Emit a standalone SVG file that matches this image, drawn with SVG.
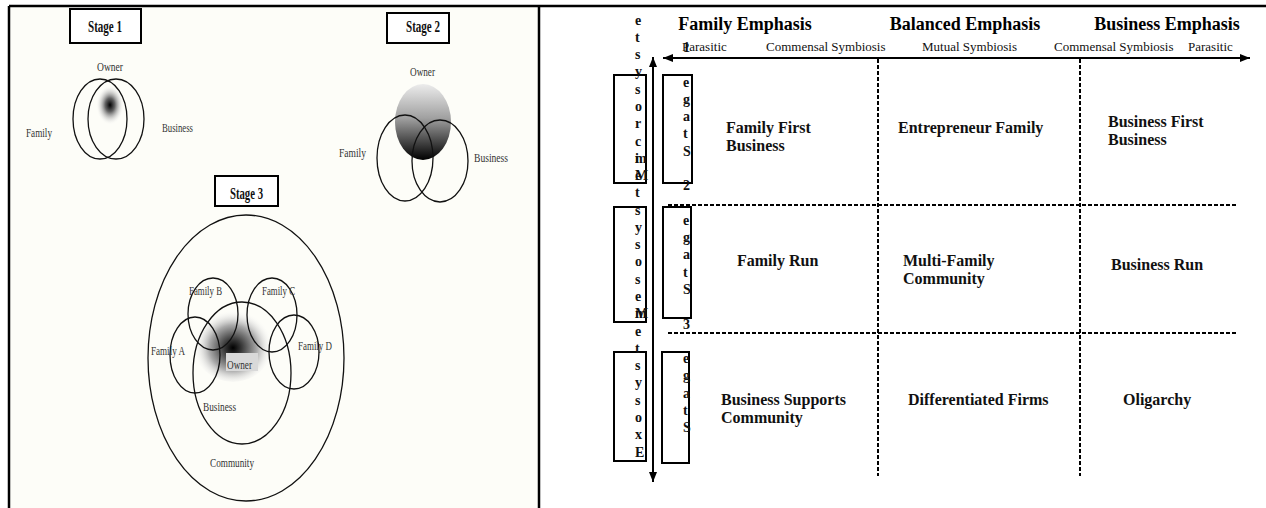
<svg xmlns="http://www.w3.org/2000/svg" width="1266" height="508" viewBox="0 0 1266 508">
<style>
.lbl{font-family:"Liberation Serif","Times New Roman",serif;font-size:13px;fill:#333}
.ttl{font-family:"Liberation Serif","Times New Roman",serif;font-size:16px;font-weight:bold;fill:#111}
.box{fill:#fff;stroke:#000;stroke-width:2}
.ring{fill:none;stroke:#111;stroke-width:1.3}
.hdr{font-family:"Liberation Serif","Times New Roman",serif;font-size:18px;font-weight:bold;fill:#000}
.sub{font-family:"Liberation Serif","Times New Roman",serif;font-size:13px;fill:#111}
.cell{font-family:"Liberation Serif","Times New Roman",serif;font-size:16px;font-weight:bold;fill:#111}
.vt{font-family:"Liberation Serif","Times New Roman",serif;font-size:14px;font-weight:bold;fill:#111}
.frame{fill:none;stroke:#000;stroke-width:2.5}
.vbox{fill:none;stroke:#000;stroke-width:2}
.dash{stroke:#000;stroke-width:2;stroke-dasharray:4 2;fill:none}
.axis{stroke:#000;stroke-width:2;fill:none}
</style>
<defs>
<radialGradient id="g1" cx="0.5" cy="0.5" r="0.5">
<stop offset="0" stop-color="#000"/>
<stop offset="0.35" stop-color="#666"/>
<stop offset="1" stop-color="#fff" stop-opacity="0"/>
</radialGradient>
<linearGradient id="g2" x1="0" y1="0" x2="0" y2="1">
<stop offset="0" stop-color="#ececec"/>
<stop offset="0.45" stop-color="#a0a0a0"/>
<stop offset="1" stop-color="#000"/>
</linearGradient>
<radialGradient id="g3" cx="0.5" cy="0.55" r="0.5">
<stop offset="0" stop-color="#000"/>
<stop offset="0.2" stop-color="#333"/>
<stop offset="0.6" stop-color="#aaa"/>
<stop offset="1" stop-color="#fff" stop-opacity="0"/>
</radialGradient>
<marker id="ah" viewBox="0 0 10 8" refX="10" refY="4" markerWidth="10" markerHeight="8" markerUnits="userSpaceOnUse" orient="auto">
<path d="M0,0 L10,4 L0,8 z" fill="#000"/>
</marker>
</defs>

<rect x="9" y="6" width="530" height="502" fill="#fdfdf8"/>
<rect x="539" y="6" width="727" height="502" fill="#fff"/>
<g id="frame">
<line class="frame" x1="9" y1="6" x2="1266" y2="6"/>
<line class="frame" x1="9" y1="6" x2="9" y2="508"/>
<line class="frame" x1="539" y1="6" x2="539" y2="508"/>
</g>

<g id="stage1">
<rect class="box" x="70" y="9" width="71" height="34"/>
<text class="ttl" x="88" y="32" textLength="34" lengthAdjust="spacingAndGlyphs">Stage 1</text>
<ellipse cx="110" cy="105" rx="14" ry="20" fill="url(#g1)"/>
<ellipse class="ring" cx="100" cy="119" rx="27" ry="40"/>
<ellipse class="ring" cx="116" cy="119" rx="28" ry="40"/>
<text class="lbl" x="97" y="71" textLength="26" lengthAdjust="spacingAndGlyphs">Owner</text>
<text class="lbl" x="26" y="137" textLength="26" lengthAdjust="spacingAndGlyphs">Family</text>
<text class="lbl" x="162" y="132" textLength="31" lengthAdjust="spacingAndGlyphs">Business</text>
</g>

<g id="stage2">
<rect class="box" x="387" y="13" width="62" height="30"/>
<text class="ttl" x="406" y="32" textLength="34" lengthAdjust="spacingAndGlyphs">Stage 2</text>
<ellipse cx="423" cy="122" rx="28" ry="38" fill="url(#g2)"/>
<ellipse class="ring" cx="405" cy="158" rx="28" ry="43"/>
<ellipse class="ring" cx="440" cy="161" rx="28" ry="41"/>
<text class="lbl" x="410" y="76" textLength="25" lengthAdjust="spacingAndGlyphs">Owner</text>
<text class="lbl" x="339" y="157" textLength="27" lengthAdjust="spacingAndGlyphs">Family</text>
<text class="lbl" x="474" y="162" textLength="34" lengthAdjust="spacingAndGlyphs">Business</text>
</g>

<g id="stage3">
<rect class="box" x="215" y="176" width="63" height="30"/>
<text class="ttl" x="230" y="199" textLength="33" lengthAdjust="spacingAndGlyphs">Stage 3</text>
<ellipse cx="233" cy="344" rx="40" ry="38" fill="url(#g3)"/>
<rect x="226" y="353" width="32" height="18" fill="#d9d9d9"/>
<ellipse class="ring" cx="246" cy="358" rx="98" ry="143"/>
<ellipse class="ring" cx="242" cy="373" rx="49" ry="71"/>
<ellipse class="ring" cx="213" cy="314" rx="25" ry="36"/>
<ellipse class="ring" cx="272" cy="315" rx="25" ry="37"/>
<ellipse class="ring" cx="195" cy="355" rx="25" ry="38"/>
<ellipse class="ring" cx="294" cy="352" rx="25" ry="37"/>
<text class="lbl" x="189" y="295" textLength="33" lengthAdjust="spacingAndGlyphs">Family B</text>
<text class="lbl" x="262" y="295" textLength="33" lengthAdjust="spacingAndGlyphs">Family C</text>
<text class="lbl" x="151" y="355" textLength="34" lengthAdjust="spacingAndGlyphs">Family A</text>
<text class="lbl" x="298" y="350" textLength="34" lengthAdjust="spacingAndGlyphs">Family D</text>
<text class="lbl" x="227" y="369" textLength="25" lengthAdjust="spacingAndGlyphs">Owner</text>
<text class="lbl" x="203" y="411" textLength="33" lengthAdjust="spacingAndGlyphs">Business</text>
<text class="lbl" x="210" y="467" textLength="44" lengthAdjust="spacingAndGlyphs">Community</text>
</g>

<g id="headers">
<text class="hdr" x="745" y="30" text-anchor="middle">Family Emphasis</text>
<text class="hdr" x="965" y="30" text-anchor="middle">Balanced Emphasis</text>
<text class="hdr" x="1167" y="30" text-anchor="middle">Business Emphasis</text>
<text class="sub" x="682" y="51">Parasitic</text>
<text class="sub" x="766" y="51">Commensal Symbiosis</text>
<text class="sub" x="922" y="51">Mutual Symbiosis</text>
<text class="sub" x="1054" y="51">Commensal Symbiosis</text>
<text class="sub" x="1188" y="51">Parasitic</text>
</g>

<g id="connectors">
<line class="axis" x1="1240" y1="58" x2="663" y2="58" marker-end="url(#ah)"/>
<line class="axis" x1="663" y1="58" x2="1250" y2="58" marker-end="url(#ah)"/>
<line class="axis" x1="653" y1="470" x2="653" y2="57" marker-end="url(#ah)"/>
<line class="axis" x1="653" y1="70" x2="653" y2="482" marker-end="url(#ah)"/>
<line class="dash" x1="878" y1="59" x2="878" y2="476"/>
<line class="dash" x1="1080" y1="59" x2="1080" y2="476"/>
<line class="dash" x1="668" y1="205" x2="1238" y2="205"/>
<line class="dash" x1="668" y1="333" x2="1238" y2="333"/>
</g>

<g id="system-labels">
<rect class="vbox" x="614" y="75" width="32" height="108"/>
<rect class="vbox" x="614" y="207" width="32" height="115"/>
<rect class="vbox" x="614" y="352" width="32" height="109"/>
<text class="vt" x="635" y="24.5">e</text>
<text class="vt" x="635" y="41.8">t</text>
<text class="vt" x="635" y="59.1">s</text>
<text class="vt" x="635" y="76.3">y</text>
<text class="vt" x="635" y="93.6">s</text>
<text class="vt" x="635" y="110.9">o</text>
<text class="vt" x="635" y="128.2">r</text>
<text class="vt" x="635" y="145.5">c</text>
<text class="vt" x="635" y="162.7">i</text>
<text class="vt" x="635" y="162.7">m</text>
<text class="vt" x="635" y="180">M</text>
<text class="vt" x="635" y="180">e</text>
<text class="vt" x="635" y="197.3">t</text>
<text class="vt" x="635" y="214.6">s</text>
<text class="vt" x="635" y="231.9">y</text>
<text class="vt" x="635" y="249.1">s</text>
<text class="vt" x="635" y="266.4">o</text>
<text class="vt" x="635" y="283.7">s</text>
<text class="vt" x="635" y="301">e</text>
<text class="vt" x="635" y="318.3">M</text>
<text class="vt" x="635" y="318.3">m</text>
<text class="vt" x="635" y="335.5">e</text>
<text class="vt" x="635" y="352.8">t</text>
<text class="vt" x="635" y="370.1">s</text>
<text class="vt" x="635" y="387.4">y</text>
<text class="vt" x="635" y="404.7">s</text>
<text class="vt" x="635" y="421.9">o</text>
<text class="vt" x="635" y="439.2">x</text>
<text class="vt" x="635" y="456.5">E</text>
</g>

<g id="stage-labels">
<rect class="vbox" x="663" y="75" width="29" height="108"/>
<rect class="vbox" x="663" y="207" width="28" height="111"/>
<rect class="vbox" x="662" y="352" width="27" height="111"/>
<text class="vt" x="683" y="52">1</text>
<text class="vt" x="683" y="86.6">e</text>
<text class="vt" x="683" y="103.8">g</text>
<text class="vt" x="683" y="121.1">a</text>
<text class="vt" x="683" y="138.4">t</text>
<text class="vt" x="683" y="155.7">S</text>
<text class="vt" x="683" y="190.2">2</text>
<text class="vt" x="683" y="224.8">e</text>
<text class="vt" x="683" y="242.1">g</text>
<text class="vt" x="683" y="259.4">a</text>
<text class="vt" x="683" y="276.6">t</text>
<text class="vt" x="683" y="293.9">S</text>
<text class="vt" x="683" y="328.5">3</text>
<text class="vt" x="683" y="363">e</text>
<text class="vt" x="683" y="380.3">g</text>
<text class="vt" x="683" y="397.6">a</text>
<text class="vt" x="683" y="414.8">t</text>
<text class="vt" x="683" y="432.1">S</text>
</g>

<g id="cell-family-first"><text class="cell" x="726" y="133">Family First</text><text class="cell" x="726" y="151">Business</text></g>
<g id="cell-entrepreneur"><text class="cell" x="898" y="133">Entrepreneur Family</text></g>
<g id="cell-business-first"><text class="cell" x="1108" y="127">Business First</text><text class="cell" x="1108" y="145">Business</text></g>
<g id="cell-family-run"><text class="cell" x="737" y="266">Family Run</text></g>
<g id="cell-multi-family"><text class="cell" x="903" y="266">Multi-Family</text><text class="cell" x="903" y="284">Community</text></g>
<g id="cell-business-run"><text class="cell" x="1111" y="270">Business Run</text></g>
<g id="cell-business-supports"><text class="cell" x="721" y="405">Business Supports</text><text class="cell" x="721" y="423">Community</text></g>
<g id="cell-differentiated"><text class="cell" x="908" y="405">Differentiated Firms</text></g>
<g id="cell-oligarchy"><text class="cell" x="1123" y="405">Oligarchy</text></g>
</svg>
